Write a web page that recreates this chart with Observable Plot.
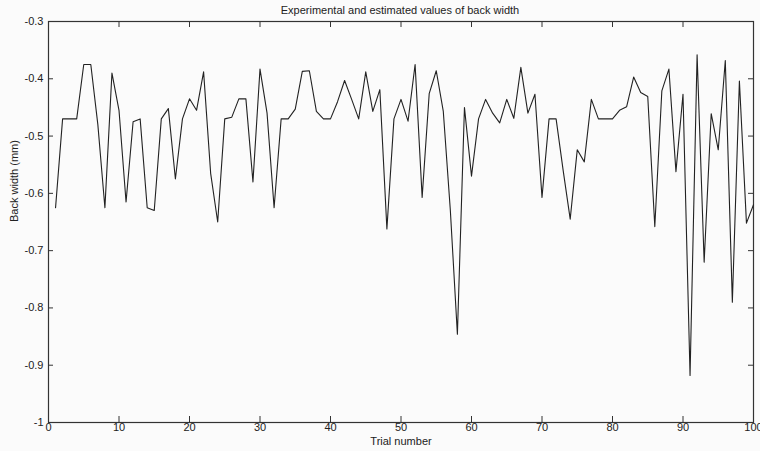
<!DOCTYPE html>
<html>
<head>
<meta charset="utf-8">
<script src="https://cdn.jsdelivr.net/npm/d3@7"></script>
<script src="https://cdn.jsdelivr.net/npm/@observablehq/plot@0.6"></script>
<style>
  html, body { margin: 0; padding: 0; background: #fbfbfb; }
  #wrap { position: relative; width: 760px; height: 451px; }
  #title { position: absolute; left: 0; top: 0; width: 760px; height: 18px; box-sizing: border-box; padding-top: 3px; padding-left: 40px;
           font: 11px "Liberation Sans", Arial, sans-serif; line-height: 14px; text-align: center; color: #222; z-index: 2; }
</style>
</head>
<body>
<div id="wrap">
<div id="title"></div>
<div id="chart"></div>
</div>
<script>
const titleText = "Experimental and estimated values of back width";
const xLabel = "Trial number";
const yLabel = "Back width (mm)";
const xTicks = [0, 10, 20, 30, 40, 50, 60, 70, 80, 90, 100];
const yTicks = [-1, -0.9, -0.8, -0.7, -0.6, -0.5, -0.4, -0.3];
const backWidth = [
  -0.625, -0.47, -0.47, -0.47, -0.375, -0.375, -0.48, -0.625, -0.39, -0.455,
  -0.615, -0.475, -0.47, -0.625, -0.63, -0.47, -0.452, -0.575, -0.47, -0.435,
  -0.455, -0.388, -0.565, -0.65, -0.47, -0.467, -0.435, -0.435, -0.58, -0.383,
  -0.46, -0.625, -0.47, -0.47, -0.453, -0.387, -0.386, -0.457, -0.47, -0.47,
  -0.44, -0.403, -0.436, -0.47, -0.388, -0.457, -0.419, -0.662, -0.47, -0.436,
  -0.474, -0.375, -0.607, -0.426, -0.386, -0.457, -0.63, -0.846, -0.45, -0.57,
  -0.47, -0.436, -0.46, -0.477, -0.436, -0.469, -0.38, -0.46, -0.427, -0.607,
  -0.47, -0.47, -0.56, -0.645, -0.524, -0.545, -0.436, -0.47, -0.47, -0.47,
  -0.455, -0.449, -0.397, -0.424, -0.431, -0.658, -0.421, -0.383, -0.562, -0.427,
  -0.918, -0.358, -0.72, -0.461, -0.524, -0.368, -0.79, -0.404, -0.652, -0.62
];
const data = backWidth.map((v, i) => ({trial: i + 1, value: v}));

document.getElementById("title").textContent = titleText;

const W = 760, H = 451;
const mL = 48, mR = 7, mT = 21, mB = 29;
const plotW = W - mL - mR, plotH = H - mT - mB;
const tickLen = 5;
const ink = "#333";

const chart = Plot.plot({
  width: W, height: H,
  marginLeft: mL, marginRight: mR, marginTop: mT, marginBottom: mB,
  style: {fontFamily: '"Liberation Sans", Arial, sans-serif', fontSize: "11px", background: "#fbfbfb", color: "#222", overflow: "visible"},
  x: {domain: [0, 100]},
  y: {domain: [-1, -0.3]},
  marks: [
    Plot.axisX({ticks: xTicks, tickSize: 0, tickPadding: 1, tickFormat: d => String(d), label: null}),
    Plot.axisY({ticks: yTicks, tickSize: 0, tickPadding: 5, tickFormat: d => String(d), label: null}),
    Plot.tickX(xTicks, {x: d => d, stroke: ink, insetTop: plotH - tickLen - 1}),
    Plot.tickX(xTicks, {x: d => d, stroke: ink, insetBottom: plotH - tickLen - 1}),
    Plot.tickY(yTicks, {y: d => d, stroke: ink, insetRight: plotW - tickLen}),
    Plot.tickY(yTicks, {y: d => d, stroke: ink, insetLeft: plotW - tickLen}),
    Plot.frame({stroke: ink, strokeWidth: 1.2}),
    Plot.lineY(data, {x: "trial", y: "value", stroke: "#222", strokeWidth: 1.1}),
    Plot.text([xLabel], {text: d => d, frameAnchor: "bottom", dy: 22, fill: "#222"}),
    Plot.text([yLabel], {text: d => d, frameAnchor: "left", rotate: -90, dx: -34, fill: "#222"})
  ]
});
document.getElementById("chart").appendChild(chart);
</script>
</body>
</html>
